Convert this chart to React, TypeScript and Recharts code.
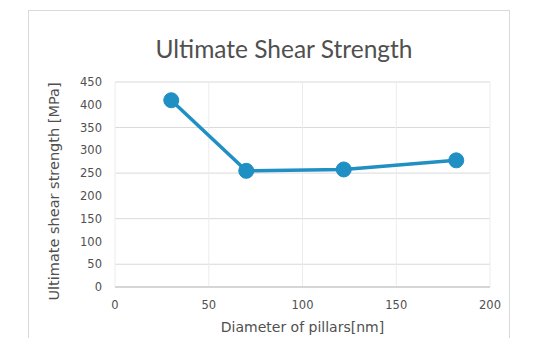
import { LineChart, Line, XAxis, YAxis, CartesianGrid } from 'recharts'

const diameters = [30, 70, 122, 182]
const strengths = [410, 255, 258, 278]
const xTicks = [0, 50, 100, 150, 200]
const yTicks = [0, 50, 100, 150, 200, 250, 300, 350, 400, 450]

const data = diameters.map((d, i) => ({ d, s: strengths[i] }))

const TITLE_FONT = 'Lato, "Open Sans", sans-serif'
const FONT = '"DejaVu Sans", sans-serif'
const TEXT = '#505050'

function YTitle(props: any) {
  const vb = props.viewBox
  const x = vb.x + 14
  const y = vb.y + vb.height / 2 + 7
  return (
    <text
      x={x}
      y={y}
      transform={`rotate(-90, ${x}, ${y})`}
      textAnchor="middle"
      dominantBaseline="central"
      fontSize={14.5}
      fill={TEXT}
      fontFamily={FONT}
    >
      Ultimate shear strength [MPa]
    </text>
  )
}

export default function App() {
  return (
    <div style={{ position: 'absolute', left: 0, top: 0, width: 554, height: 338, background: '#fff' }}>
      <div
        style={{
          position: 'absolute',
          left: 28,
          top: 10,
          width: 482,
          height: 340,
          border: '1px solid #d9d9d9',
          boxSizing: 'border-box',
        }}
      />
      <div
        style={{
          position: 'absolute',
          left: 0,
          width: 568,
          top: 33,
          textAlign: 'center',
          fontSize: 24.5,
          fontFamily: TITLE_FONT,
          color: TEXT,
          lineHeight: '32px',
        }}
      >
        Ultimate Shear Strength
      </div>
      <div style={{ position: 'absolute', left: 0, top: 0 }}>
        <LineChart width={554} height={338} data={data} margin={{ top: 82, right: 64, bottom: 4, left: 40 }}>
          <CartesianGrid vertical={false} stroke="#d9d9d9" />
          <CartesianGrid horizontal={false} stroke="#ececec" />
          <XAxis
            dataKey="d"
            type="number"
            domain={[0, 200]}
            ticks={xTicks}
            height={47}
            tickLine={false}
            tickSize={0}
            tickMargin={14}
            axisLine={{ stroke: '#bfbfbf' }}
            tick={{ fontSize: 11.5, fill: TEXT, fontFamily: FONT }}
            label={{
              value: 'Diameter of pillars[nm]',
              position: 'insideBottom',
              offset: 2,
              fontSize: 14,
              fill: TEXT,
              fontFamily: FONT,
            }}
          />
          <YAxis
            type="number"
            domain={[0, 450]}
            ticks={yTicks}
            width={75}
            tickLine={false}
            tickSize={0}
            tickMargin={13}
            axisLine={false}
            tick={{ fontSize: 11.5, fill: TEXT, fontFamily: FONT }}
            label={<YTitle />}
          />
          <Line
            dataKey="s"
            stroke="#1f8fc4"
            strokeWidth={3.5}
            dot={{ r: 7.5, fill: '#1f8fc4', stroke: '#1f8fc4', strokeWidth: 1 }}
            isAnimationActive={false}
          />
        </LineChart>
      </div>
    </div>
  )
}
